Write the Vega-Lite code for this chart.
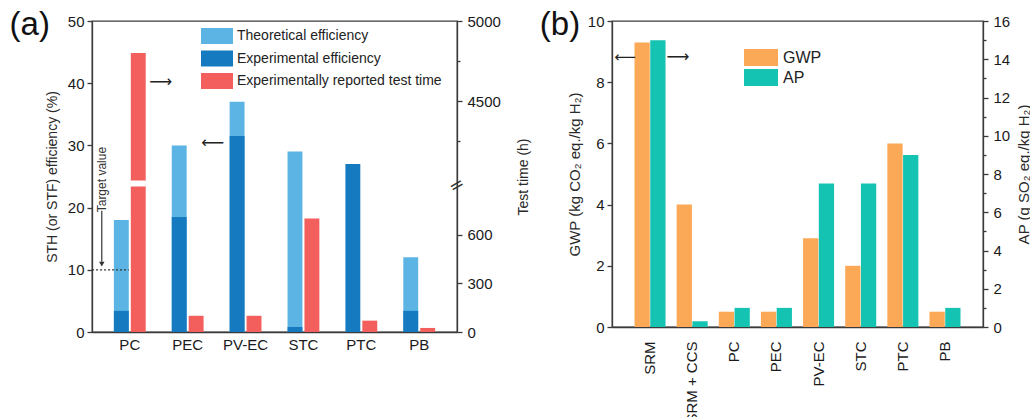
{
  "$schema": "https://vega.github.io/schema/vega-lite/v6.json",
  "background": "white",
  "padding": {"left": 8, "top": 8, "right": 0, "bottom": 0},
  "bounds": "flush",
  "spacing": 155,
  "resolve": {
    "scale": {"color": "independent", "xOffset": "independent"},
    "legend": {"color": "independent"}
  },
  "config": {
    "font": "Liberation Sans",
    "view": {"stroke": "#3a3a3a", "strokeWidth": 1.3},
    "axis": {
      "grid": false,
      "domainColor": "#3a3a3a",
      "domainWidth": 1.3,
      "tickColor": "#3a3a3a",
      "tickWidth": 1.3,
      "tickSize": 5,
      "labelFont": "Liberation Sans",
      "labelFontSize": 15,
      "labelColor": "#1a1a1a",
      "titleFont": "Liberation Sans",
      "titleFontSize": 14,
      "titleFontWeight": "normal",
      "titleColor": "#2a2a2a"
    },
    "legend": {
      "title": null,
      "symbolType": "M-2,-1H2V1H-2Z",
      "symbolStrokeWidth": 0,
      "symbolOpacity": 1,
      "labelColor": "#222222",
      "labelFont": "Liberation Sans",
      "labelLimit": 400
    }
  },
  "datasets": {
    "efficiency": [
      {"process": "PC", "kind": "Theoretical efficiency", "measure": "efficiency", "value": 18},
      {"process": "PEC", "kind": "Theoretical efficiency", "measure": "efficiency", "value": 30},
      {"process": "PV-EC", "kind": "Theoretical efficiency", "measure": "efficiency", "value": 37},
      {"process": "STC", "kind": "Theoretical efficiency", "measure": "efficiency", "value": 29},
      {"process": "PB", "kind": "Theoretical efficiency", "measure": "efficiency", "value": 12},
      {"process": "PC", "kind": "Experimental efficiency", "measure": "efficiency", "value": 3.4},
      {"process": "PEC", "kind": "Experimental efficiency", "measure": "efficiency", "value": 18.5},
      {"process": "PV-EC", "kind": "Experimental efficiency", "measure": "efficiency", "value": 31.5},
      {"process": "STC", "kind": "Experimental efficiency", "measure": "efficiency", "value": 0.8},
      {"process": "PTC", "kind": "Experimental efficiency", "measure": "efficiency", "value": 27},
      {"process": "PB", "kind": "Experimental efficiency", "measure": "efficiency", "value": 3.4}
    ],
    "testTime": [
      {"process": "PC", "kind": "Experimentally reported test time", "measure": "test time", "hours": 4800},
      {"process": "PEC", "kind": "Experimentally reported test time", "measure": "test time", "hours": 100},
      {"process": "PV-EC", "kind": "Experimentally reported test time", "measure": "test time", "hours": 100},
      {"process": "STC", "kind": "Experimentally reported test time", "measure": "test time", "hours": 700},
      {"process": "PTC", "kind": "Experimentally reported test time", "measure": "test time", "hours": 70},
      {"process": "PB", "kind": "Experimentally reported test time", "measure": "test time", "hours": 25}
    ],
    "impact": [
      {"process": "SRM", "indicator": "GWP", "value": 9.3},
      {"process": "SRM + CCS", "indicator": "GWP", "value": 4.0},
      {"process": "PC", "indicator": "GWP", "value": 0.5},
      {"process": "PEC", "indicator": "GWP", "value": 0.5},
      {"process": "PV-EC", "indicator": "GWP", "value": 2.9},
      {"process": "STC", "indicator": "GWP", "value": 2.0},
      {"process": "PTC", "indicator": "GWP", "value": 6.0},
      {"process": "PB", "indicator": "GWP", "value": 0.5},
      {"process": "SRM", "indicator": "AP", "value": 15.0},
      {"process": "SRM + CCS", "indicator": "AP", "value": 0.3},
      {"process": "PC", "indicator": "AP", "value": 1.0},
      {"process": "PEC", "indicator": "AP", "value": 1.0},
      {"process": "PV-EC", "indicator": "AP", "value": 7.5},
      {"process": "STC", "indicator": "AP", "value": 7.5},
      {"process": "PTC", "indicator": "AP", "value": 9.0},
      {"process": "PB", "indicator": "AP", "value": 1.0}
    ]
  },
  "hconcat": [
    {
      "width": 365,
      "height": 311,
      "layer": [
        {
          "layer": [
            {
              "data": {"name": "efficiency"},
              "mark": {"type": "bar"},
              "encoding": {
                "x": {
                  "field": "process", "type": "nominal", "sort": null,
                  "scale": {"domain": ["PC", "PEC", "PV-EC", "STC", "PTC", "PB"], "paddingInner": 0.45, "paddingOuter": 0.378},
                  "axis": {"title": null, "ticks": false, "labelAngle": 0, "labelPadding": 5}
                },
                "xOffset": {"field": "measure", "type": "nominal", "scale": {"domain": ["efficiency", "test time"], "paddingInner": 0.12}},
                "y": {
                  "field": "value", "type": "quantitative", "stack": null,
                  "scale": {"domain": [0, 50], "nice": false},
                  "axis": {
                    "orient": "left",
                    "values": [0, 2.5, 5, 7.5, 10, 12.5, 15, 17.5, 20, 22.5, 25, 27.5, 30, 32.5, 35, 37.5, 40, 42.5, 45, 47.5, 50],
                    "labelExpr": "datum.value % 5 === 0 ? datum.label : ''",
                    "tickSize": {"condition": {"test": "datum.value % 5 !== 0", "value": 3}, "value": 5},
                    "title": "STH (or STF) efficiency (%)", "labelPadding": 3, "titlePadding": 8
                  }
                },
                "color": {
                  "field": "kind", "type": "nominal",
                  "scale": {"domain": ["Theoretical efficiency", "Experimental efficiency", "Experimentally reported test time"], "range": ["#5BB4E3", "#157ABF", "#F25F5C"]},
                  "legend": {"orient": "none", "legendX": 117, "legendY": 7, "symbolSize": 256, "labelFontSize": 14, "labelOffset": 12, "rowPadding": 6.5}
                }
              }
            },
            {
              "data": {"values": [{"target": 10}]},
              "mark": {"type": "rule", "strokeDash": [2, 2], "color": "#333333", "strokeWidth": 1.2},
              "encoding": {
                "x": {"datum": "PC", "type": "nominal", "bandPosition": -0.685},
                "x2": {"datum": "PC", "bandPosition": 0.47},
                "y": {"field": "target", "type": "quantitative"}
              }
            },
            {
              "data": {"values": [{}]},
              "mark": {"type": "rule", "color": "#333333", "strokeWidth": 1.2},
              "encoding": {
                "x": {"datum": "PC", "type": "nominal", "bandPosition": -0.38},
                "y": {"datum": 19.5},
                "y2": {"datum": 11.3}
              }
            },
            {
              "data": {"values": [{}]},
              "mark": {"type": "point", "shape": "triangle-down", "filled": true, "size": 30, "color": "#333333", "opacity": 1},
              "encoding": {
                "x": {"datum": "PC", "type": "nominal", "bandPosition": -0.38},
                "y": {"datum": 10.9}
              }
            },
            {
              "data": {"values": [{"note": "Target value"}]},
              "mark": {"type": "text", "angle": 270, "fontSize": 12, "color": "#333333", "align": "center", "baseline": "middle"},
              "encoding": {
                "x": {"datum": "PC", "type": "nominal", "bandPosition": -0.38},
                "y": {"datum": 24.5},
                "text": {"field": "note"}
              }
            },
            {
              "data": {"values": [{}]},
              "mark": {"type": "text", "text": "⟶", "font": "DejaVu Sans", "fontSize": 16, "color": "#222222", "dx": 31, "align": "center", "baseline": "middle"},
              "encoding": {
                "x": {"datum": "PC", "type": "nominal"},
                "y": {"datum": 40.2}
              }
            },
            {
              "data": {"values": [{}]},
              "mark": {"type": "text", "text": "⟵", "font": "DejaVu Sans", "fontSize": 16, "color": "#222222", "dx": 25, "align": "center", "baseline": "middle"},
              "encoding": {
                "x": {"datum": "PEC", "type": "nominal"},
                "y": {"datum": 30.4}
              }
            },
            {
              "data": {"values": [{"panel": "(a)"}]},
              "mark": {"type": "text", "fontSize": 33, "color": "#111111", "dx": -100, "align": "center", "baseline": "middle"},
              "encoding": {
                "x": {"datum": "PC", "type": "nominal"},
                "y": {"datum": 49.36},
                "text": {"field": "panel"}
              }
            }
          ]
        },
        {
          "layer": [
            {
              "data": {"name": "testTime"},
              "mark": {"type": "bar"},
              "encoding": {
                "x": {"field": "process", "type": "nominal", "sort": null},
                "xOffset": {"field": "measure", "type": "nominal"},
                "y": {
                  "field": "hours", "type": "quantitative",
                  "scale": {"domain": [0, 900, 4000, 5000], "range": [311, 165, 160, 0], "nice": false, "zero": false},
                  "axis": {
                    "orient": "right",
                    "values": [0, 300, 600, 4250, 4500, 4750, 5000],
                    "format": "d",
                    "labelExpr": "datum.value % 300 === 0 || datum.value % 500 === 0 ? datum.label : ''",
                    "tickSize": {"condition": {"test": "datum.value === 4250 || datum.value === 4750", "value": 3}, "value": 5},
                    "title": "Test time (h)", "titleAngle": 270, "titleBaseline": "top", "labelPadding": 5, "titlePadding": 16
                  }
                },
                "color": {"field": "kind", "type": "nominal"}
              }
            },
            {
              "data": {"name": "testTime"},
              "transform": [{"filter": "datum.process === 'PC'"}],
              "mark": {"type": "bar", "color": "white", "stroke": "white", "strokeWidth": 1},
              "encoding": {
                "x": {"field": "process", "type": "nominal", "sort": null},
                "xOffset": {"field": "measure", "type": "nominal"},
                "y": {"datum": 900},
                "y2": {"datum": 4000}
              }
            },
            {
              "data": {"values": [{}]},
              "mark": {"type": "text", "text": "=", "font": "DejaVu Sans", "fontSize": 18, "angle": 330, "color": "#333333", "align": "center", "baseline": "middle"},
              "encoding": {
                "x": {"datum": "PB", "type": "nominal", "bandPosition": 1.687},
                "y": {"datum": 900}
              }
            }
          ]
        }
      ],
      "resolve": {"scale": {"y": "independent"}}
    },
    {
      "width": 371,
      "height": 306,
      "layer": [
        {
          "layer": [
            {
              "data": {"name": "impact"},
              "transform": [{"filter": "datum.indicator === 'GWP'"}],
              "mark": {"type": "bar"},
              "encoding": {
                "x": {
                  "field": "process", "type": "nominal", "sort": null,
                  "scale": {"domain": ["SRM", "SRM + CCS", "PC", "PEC", "PV-EC", "STC", "PTC", "PB"], "paddingInner": 0.264, "paddingOuter": 0.534},
                  "axis": {"title": null, "ticks": false, "labelAngle": 270, "labelAlign": "right", "labelBaseline": "middle", "labelPadding": 14}
                },
                "xOffset": {"field": "indicator", "type": "nominal", "scale": {"domain": ["GWP", "AP"], "paddingInner": 0.03}},
                "y": {
                  "field": "value", "type": "quantitative",
                  "scale": {"domain": [0, 10], "nice": false},
                  "axis": {
                    "orient": "left",
                    "values": [0, 1, 2, 3, 4, 5, 6, 7, 8, 9, 10],
                    "labelExpr": "datum.value % 2 === 0 ? datum.label : ''",
                    "tickSize": {"condition": {"test": "datum.value % 2 !== 0", "value": 3}, "value": 5},
                    "title": "GWP (kg CO₂ eq./kg H₂)", "titleFontSize": 15, "labelPadding": 3, "titlePadding": 5
                  }
                },
                "color": {
                  "field": "indicator", "type": "nominal",
                  "scale": {"domain": ["GWP", "AP"], "range": ["#FBA957", "#14C3B1"]},
                  "legend": {"orient": "none", "legendX": 140.5, "legendY": 28, "symbolSize": 289, "labelFontSize": 16, "labelOffset": 13.5, "rowPadding": 3}
                }
              }
            },
            {
              "data": {"values": [{}]},
              "mark": {"type": "text", "text": "⟵", "font": "DejaVu Sans", "fontSize": 15, "color": "#222222", "dx": -25, "align": "center", "baseline": "middle"},
              "encoding": {
                "x": {"datum": "SRM", "type": "nominal"},
                "y": {"datum": 8.82}
              }
            },
            {
              "data": {"values": [{}]},
              "mark": {"type": "text", "text": "⟶", "font": "DejaVu Sans", "fontSize": 16, "color": "#222222", "dx": 28, "align": "center", "baseline": "middle"},
              "encoding": {
                "x": {"datum": "SRM", "type": "nominal"},
                "y": {"datum": 8.82}
              }
            },
            {
              "data": {"values": [{"panel": "(b)"}]},
              "mark": {"type": "text", "fontSize": 33, "color": "#111111", "dx": -90, "align": "center", "baseline": "middle"},
              "encoding": {
                "x": {"datum": "SRM", "type": "nominal"},
                "y": {"datum": 9.87},
                "text": {"field": "panel"}
              }
            }
          ]
        },
        {
          "data": {"name": "impact"},
          "transform": [{"filter": "datum.indicator === 'AP'"}],
          "mark": {"type": "bar"},
          "encoding": {
            "x": {"field": "process", "type": "nominal", "sort": null},
            "xOffset": {"field": "indicator", "type": "nominal"},
            "y": {
              "field": "value", "type": "quantitative",
              "scale": {"domain": [0, 16], "nice": false},
              "axis": {
                "orient": "right",
                "values": [0, 1, 2, 3, 4, 5, 6, 7, 8, 9, 10, 11, 12, 13, 14, 15, 16],
                "labelExpr": "datum.value % 2 === 0 ? datum.label : ''",
                "tickSize": {"condition": {"test": "datum.value % 2 !== 0", "value": 3}, "value": 5},
                "title": "AP (g SO₂ eq./kg H₂)", "titleAngle": 270, "titleBaseline": "top", "titleFontSize": 15, "labelPadding": 5, "titlePadding": 7
              }
            },
            "color": {"field": "indicator", "type": "nominal"}
          }
        }
      ],
      "resolve": {"scale": {"y": "independent"}}
    }
  ]
}
